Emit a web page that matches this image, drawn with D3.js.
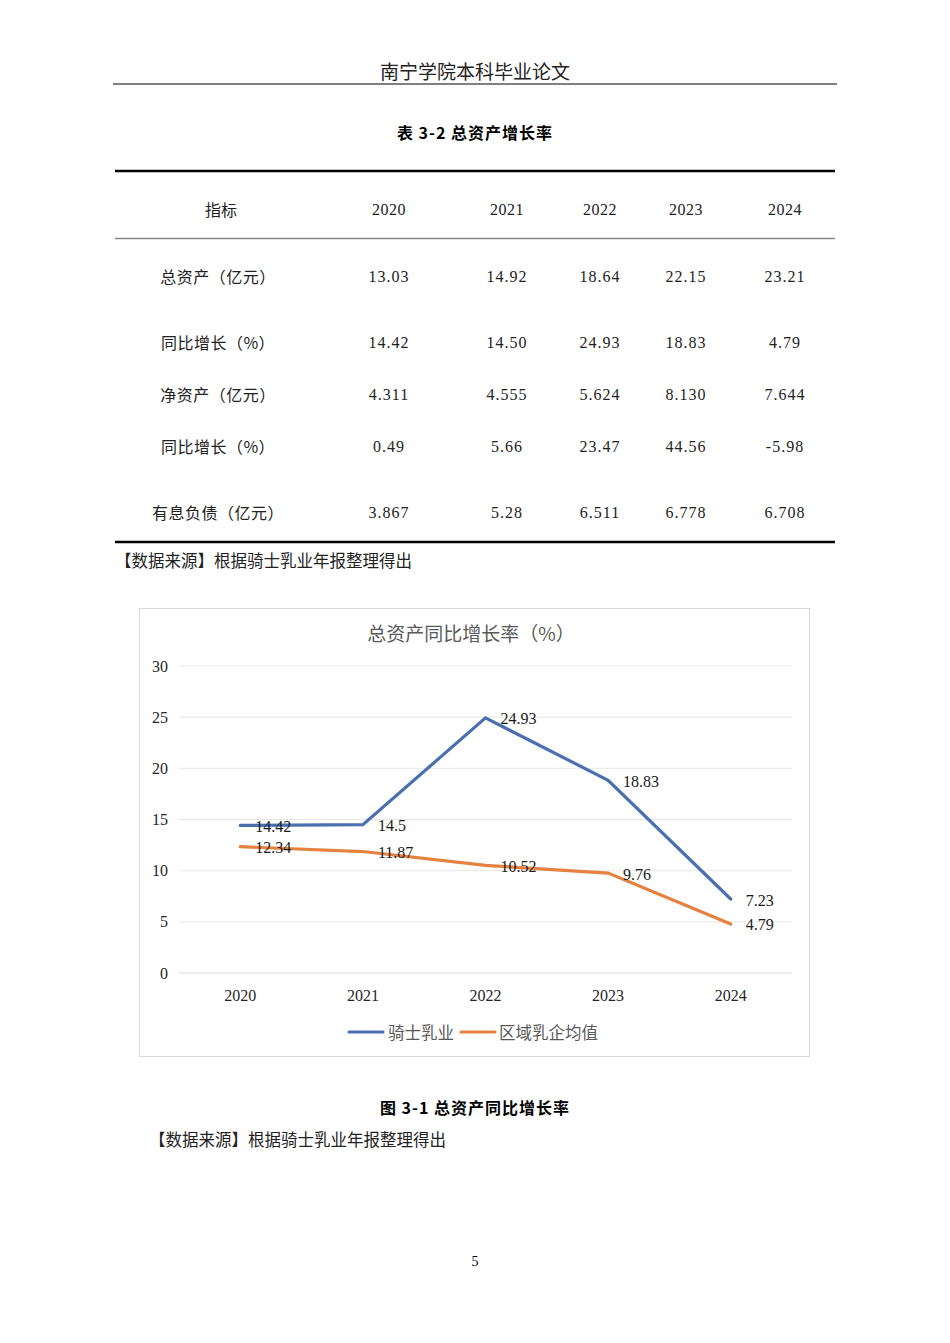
<!DOCTYPE html>
<html>
<head>
<meta charset="utf-8">
<script src="https://cdn.jsdelivr.net/npm/d3@7"></script>
<style>
  body { margin:0; background:#fff; }
  svg text { font-family: "Noto Sans CJK SC", sans-serif; }
  .num { font-family: "Liberation Serif", serif; }
</style>
</head>
<body>
<div id="page"></div>
<script>
// table data
var years = ["2020", "2021", "2022", "2023", "2024"];
var rowNames = ["总资产（亿元）", "同比增长（%）", "净资产（亿元）", "同比增长（%）", "有息负债（亿元）"];
var totalAssets = ["13.03", "14.92", "18.64", "22.15", "23.21"];
var totalGrowth = ["14.42", "14.50", "24.93", "18.83", "4.79"];
var netAssets = ["4.311", "4.555", "5.624", "8.130", "7.644"];
var netGrowth = ["0.49", "5.66", "23.47", "44.56", "-5.98"];
var debt = ["3.867", "5.28", "6.511", "6.778", "6.708"];

// chart data
var seriesNames = ["骑士乳业", "区域乳企均值"];
var qishi = [14.42, 14.5, 24.93, 18.83, 7.23];
var regionAvg = [12.34, 11.87, 10.52, 9.76, 4.79];
var yTicks = [0, 5, 10, 15, 20, 25, 30];

var W = 950, H = 1343;
var svg = d3.select("#page").append("svg")
    .attr("width", W)
    .attr("height", H);

// page header
svg.append("text")
    .attr("x", 475).attr("y", 70)
    .attr("text-anchor", "middle").attr("dominant-baseline", "central")
    .style("font-size", "19px").style("fill", "#222")
    .text("南宁学院本科毕业论文");
svg.append("line")
    .attr("x1", 113).attr("x2", 837).attr("y1", 84).attr("y2", 84)
    .style("stroke", "#000").style("stroke-width", 1);

// table caption
svg.append("text")
    .attr("x", 475).attr("y", 132)
    .attr("text-anchor", "middle").attr("dominant-baseline", "central")
    .style("font-size", "16px").style("font-weight", "bold").style("letter-spacing", "1px")
    .text("表 3-2 总资产增长率");

// table rules
svg.append("line").attr("x1", 115).attr("x2", 835).attr("y1", 171).attr("y2", 171)
    .style("stroke", "#000").style("stroke-width", 2.5);
svg.append("line").attr("x1", 115).attr("x2", 835).attr("y1", 238.5).attr("y2", 238.5)
    .style("stroke", "#888").style("stroke-width", 1.5);
svg.append("line").attr("x1", 115).attr("x2", 835).attr("y1", 542).attr("y2", 542)
    .style("stroke", "#000").style("stroke-width", 2.5);

var colX = [389, 507, 600, 686, 785];
var rowY = [276, 342, 394, 446, 512];
var tableData = [totalAssets, totalGrowth, netAssets, netGrowth, debt];

svg.append("text")
    .attr("x", 221).attr("y", 209)
    .attr("text-anchor", "middle").attr("dominant-baseline", "central")
    .style("font-size", "16px").style("fill", "#222")
    .text("指标");
svg.selectAll(".yearhead")
    .data(years)
    .enter()
    .append("text")
    .attr("class", "yearhead num")
    .attr("x", function(d, i) { return colX[i]; })
    .attr("y", 209)
    .attr("text-anchor", "middle").attr("dominant-baseline", "central")
    .style("font-size", "16px").style("letter-spacing", "0.5px").style("fill", "#222")
    .text(function(d) { return d; });

svg.selectAll(".rowname")
    .data(rowNames)
    .enter()
    .append("text")
    .attr("class", "rowname")
    .attr("x", 218)
    .attr("y", function(d, i) { return rowY[i]; })
    .attr("text-anchor", "middle").attr("dominant-baseline", "central")
    .style("font-size", "16px").style("letter-spacing", "0.5px").style("fill", "#222")
    .text(function(d) { return d; });

tableData.forEach(function(row, r) {
  svg.selectAll(".cell" + r)
      .data(row)
      .enter()
      .append("text")
      .attr("class", "num")
      .attr("x", function(d, i) { return colX[i]; })
      .attr("y", rowY[r])
      .attr("text-anchor", "middle").attr("dominant-baseline", "central")
      .style("font-size", "16px").style("letter-spacing", "1px").style("fill", "#222")
      .text(function(d) { return d; });
});

// source notes
svg.append("text")
    .attr("x", 115).attr("y", 560)
    .attr("dominant-baseline", "central")
    .style("font-size", "16.5px").style("fill", "#222")
    .text("【数据来源】根据骑士乳业年报整理得出");

// chart box
svg.append("rect")
    .attr("x", 139.5).attr("y", 608.5)
    .attr("width", 670).attr("height", 448)
    .style("fill", "#fff").style("stroke", "#d9d9d9").style("stroke-width", 1);

svg.append("text")
    .attr("x", 471).attr("y", 632)
    .attr("text-anchor", "middle").attr("dominant-baseline", "central")
    .style("font-size", "19px").style("fill", "#595959")
    .text("总资产同比增长率（%）");

var x = d3.scaleBand()
    .domain(years)
    .range([179, 792]);
var y = d3.scaleLinear()
    .domain([0, 30])
    .range([973, 666]);

// grid lines
svg.selectAll(".grid")
    .data(yTicks)
    .enter()
    .append("line")
    .attr("class", "grid")
    .attr("x1", 179).attr("x2", 792)
    .attr("y1", function(d) { return y(d); })
    .attr("y2", function(d) { return y(d); })
    .style("stroke", function(d) { return d == 0 ? "#d9d9d9" : "#e8e8e8"; })
    .style("stroke-width", 1);

// y axis labels
svg.selectAll(".ylab")
    .data(yTicks)
    .enter()
    .append("text")
    .attr("class", "ylab num")
    .attr("x", 168)
    .attr("y", function(d) { return y(d); })
    .attr("text-anchor", "end").attr("dominant-baseline", "central")
    .style("font-size", "16px").style("fill", "#262626")
    .text(function(d) { return d; });

// x axis labels
svg.selectAll(".xlab")
    .data(years)
    .enter()
    .append("text")
    .attr("class", "xlab num")
    .attr("x", function(d) { return x(d) + x.bandwidth() / 2; })
    .attr("y", 995)
    .attr("text-anchor", "middle").attr("dominant-baseline", "central")
    .style("font-size", "16px").style("fill", "#262626")
    .text(function(d) { return d; });

var colors = ["#4a70b0", "#e5823f"];
var allSeries = [qishi, regionAvg];

var line = d3.line()
    .x(function(d, i) { return x(years[i]) + x.bandwidth() / 2; })
    .y(function(d) { return y(d); });

allSeries.forEach(function(vals, s) {
  svg.append("path")
      .datum(vals)
      .attr("d", line)
      .style("fill", "none")
      .style("stroke", colors[s])
      .style("stroke-width", 3.2)
      .style("stroke-linejoin", "miter")
      .style("stroke-linecap", "round");
});

// data labels
allSeries.forEach(function(vals, s) {
  svg.selectAll(".lab" + s)
      .data(vals)
      .enter()
      .append("text")
      .attr("class", "num")
      .attr("x", function(d, i) { return x(years[i]) + x.bandwidth() / 2 + 15; })
      .attr("y", function(d) { return y(d) + 1; })
      .attr("dominant-baseline", "central")
      .style("font-size", "16px").style("fill", "#1a1a1a")
      .text(function(d) { return d; });
});

// legend
var legX = [349, 461];
var legTextX = [388, 499];
seriesNames.forEach(function(name, s) {
  svg.append("line")
      .attr("x1", legX[s]).attr("x2", legX[s] + 34)
      .attr("y1", 1032).attr("y2", 1032)
      .style("stroke", colors[s]).style("stroke-width", 3.2)
      .style("stroke-linecap", "round");
  svg.append("text")
      .attr("x", legTextX[s]).attr("y", 1032)
      .attr("dominant-baseline", "central")
      .style("font-size", "16.5px").style("fill", "#595959")
      .text(name);
});

// figure caption
svg.append("text")
    .attr("x", 475).attr("y", 1107)
    .attr("text-anchor", "middle").attr("dominant-baseline", "central")
    .style("font-size", "16px").style("font-weight", "bold").style("letter-spacing", "1px")
    .text("图 3-1 总资产同比增长率");

svg.append("text")
    .attr("x", 149).attr("y", 1139)
    .attr("dominant-baseline", "central")
    .style("font-size", "16.5px").style("fill", "#222")
    .text("【数据来源】根据骑士乳业年报整理得出");

// page number
svg.append("text")
    .attr("class", "num")
    .attr("x", 475).attr("y", 1261)
    .attr("text-anchor", "middle").attr("dominant-baseline", "central")
    .style("font-size", "14px")
    .text("5");
</script>
</body>
</html>
